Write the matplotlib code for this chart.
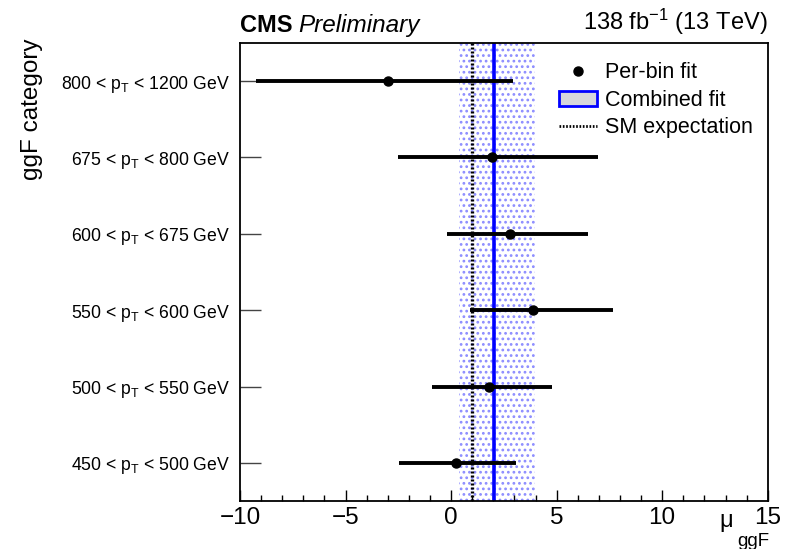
import matplotlib
matplotlib.use("Agg")
import matplotlib.pyplot as plt
from matplotlib.lines import Line2D
from matplotlib.patches import Patch

plt.rcParams['font.family'] = ['Liberation Sans', 'DejaVu Sans']
plt.rcParams['mathtext.fontset'] = 'custom'
plt.rcParams['mathtext.rm'] = 'Liberation Sans'
plt.rcParams['mathtext.it'] = 'Liberation Sans:italic'
plt.rcParams['hatch.linewidth'] = 1.2

# categories, bottom to top
categories = ['450 < p$_\\mathregular{T}$ < 500 GeV',
              '500 < p$_\\mathregular{T}$ < 550 GeV',
              '550 < p$_\\mathregular{T}$ < 600 GeV',
              '600 < p$_\\mathregular{T}$ < 675 GeV',
              '675 < p$_\\mathregular{T}$ < 800 GeV',
              '800 < p$_\\mathregular{T}$ < 1200 GeV']
mu_bin = [0.24, 1.80, 3.87, 2.81, 1.93, -2.97]
mu_lo = [-2.49, -0.91, 0.90, -0.19, -2.52, -9.25]
mu_hi = [3.06, 4.80, 7.67, 6.50, 6.96, 2.94]

mu_comb = 2.05
comb_lo, comb_hi = 0.38, 3.98
mu_sm = 1.0

fig = plt.figure(figsize=(7.85, 5.49), dpi=100)
ax = fig.add_axes([0.3057, 0.0874, 0.978 - 0.3057, 0.9217 - 0.0874])

ypos = [i + 0.5 for i in range(len(categories))]

# combined fit band + central value
ax.axvspan(comb_lo, comb_hi, facecolor='none', edgecolor=(0.55, 0.55, 1.0),
           hatch='...', lw=0, zorder=1)
ax.axvline(mu_comb, color='#0000ff', lw=2.6, zorder=2)
# SM expectation
ax.axvline(mu_sm, color='black', lw=2.4, ls=(0, (0.6, 0.6)), zorder=2)

# per-bin fits
xerr = [[m - l for m, l in zip(mu_bin, mu_lo)], [h - m for m, h in zip(mu_bin, mu_hi)]]
ax.errorbar(mu_bin, ypos, xerr=xerr, fmt='o', color='black', ms=6.5,
            elinewidth=2.8, capsize=0, zorder=4)

ax.set_xlim(-10, 15)
ax.set_ylim(0, 6)
ax.set_xticks([-10, -5, 0, 5, 10, 15])
ax.set_xticklabels(['\u221210', '\u22125', '0', '5', '10', '15'])
ax.set_xticks(range(-10, 16), minor=True)
ax.tick_params(axis='x', which='major', direction='in', length=8, width=1,
               labelsize=17.5, pad=4)
ax.tick_params(axis='x', which='minor', direction='in', length=4, width=1)
ax.set_yticks(ypos)
ax.set_yticklabels(categories)
ax.tick_params(axis='y', which='major', direction='in', length=15, width=1,
               color='#444444', labelsize=12.7, pad=7)
for s in ax.spines.values():
    s.set_linewidth(1.3)

# x title: mu with a low subscript, ROOT style
ax.text(0.935, -0.057, '\u03bc', transform=ax.transAxes,
        ha='right', va='baseline', fontsize=17)
ax.text(0.942, -0.07, 'ggF', transform=ax.transAxes,
        ha='left', va='top', fontsize=13.5)
fig.text(0.041, 0.93, 'ggF category', rotation=90, ha='center', va='top',
         fontsize=17.5)

ax.text(0.0, 1.012, 'CMS', transform=ax.transAxes, ha='left', va='bottom',
        fontsize=17, fontweight='bold')
ax.text(0.11, 1.012, 'Preliminary', transform=ax.transAxes, ha='left',
        va='bottom', fontsize=17.5, style='italic')
ax.text(1.0, 1.012, '138 fb$^{-1}$ (13 TeV)', transform=ax.transAxes,
        ha='right', va='bottom', fontsize=17)

handles = [Line2D([], [], marker='o', color='black', ls='none', ms=6.5),
           Patch(facecolor='#d6d6dc', edgecolor='#0000ff', lw=2),
           Line2D([], [], color='black', lw=2, ls=(0, (0.6, 0.6)))]
labels = ['Per-bin fit', 'Combined fit', 'SM expectation']
ax.legend(handles, labels, loc='upper right', bbox_to_anchor=(0.972, 0.958),
          frameon=False, fontsize=15.5, handlelength=1.75, handletextpad=0.37,
          labelspacing=0.3, borderaxespad=0, borderpad=0)

fig.savefig('out.png', dpi=100)
